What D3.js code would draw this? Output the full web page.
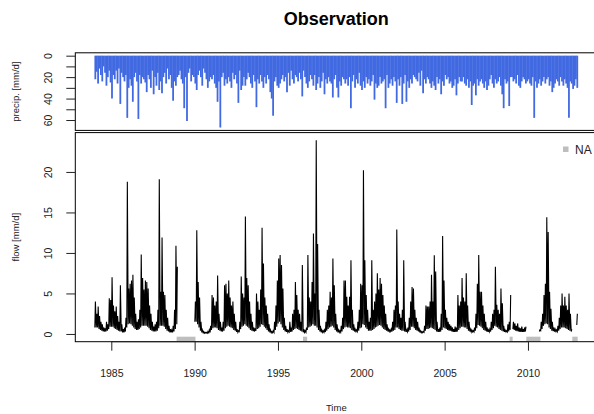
<!DOCTYPE html>
<html><head><meta charset="utf-8">
<script src="https://cdn.jsdelivr.net/npm/d3@7/dist/d3.min.js"></script>
<style>
html,body{margin:0;padding:0;background:#fff;}
svg{display:block;font-family:"Liberation Sans",Arial,Helvetica,sans-serif;}
</style></head>
<body>
<svg id="chart" width="594" height="414"></svg>
<script>
// ---- data (monthly, Jan 1984 .. Dec 2012) ----
const startYear = 1984;
const endYear = 2013;
const precip = [
 22,15,26,12,18,24,10,16,28,20,14,25,
 40,18,22,14,26,12,45,16,20,24,18,58,
 30,22,28,43,20,16,24,59,18,26,20,22,
 25,34,18,22,30,14,36,20,28,16,32,24,
 35,20,16,26,12,22,18,30,42,24,28,20,
 18,14,22,26,49,20,61,16,12,24,18,20,
 26,32,18,14,20,28,12,16,22,30,24,20,
 22,18,26,30,43,24,67,20,16,28,22,26,
 20,24,30,16,22,18,26,44,14,32,28,20,
 28,22,16,20,26,30,18,24,48,22,26,18,
 24,30,20,26,18,22,34,40,56,24,20,28,
 30,26,22,18,24,20,34,16,28,14,22,26,
 18,20,24,16,22,38,14,20,26,30,24,18,
 22,28,18,32,26,20,30,24,16,36,22,26,
 20,24,26,39,22,18,30,39,24,28,20,22,
 26,22,28,20,49,24,18,30,22,26,16,28,
 32,24,30,20,26,22,28,24,18,41,26,30,
 28,20,26,24,22,49,18,30,26,22,28,20,
 24,44,22,28,20,45,26,18,43,24,30,22,
 26,18,20,22,24,16,28,14,35,22,26,20,
 22,26,30,24,28,32,20,26,22,36,24,28,
 18,22,20,26,24,30,28,22,37,26,20,24,
 24,20,26,28,22,30,24,46,28,26,37,22,
 28,24,22,26,30,24,32,28,22,18,26,30,
 22,26,24,20,28,36,49,22,26,24,47,20,
 20,24,22,26,18,28,30,24,20,22,26,24,
 22,26,28,20,58,24,30,26,22,28,24,20,
 26,22,20,28,24,34,30,26,22,24,28,20,
 24,28,22,26,30,58,24,26,31,28,22,30
];
const N = null;
const flowHi = [
 4.0,2.5,3.4,2.2,1.5,1.2,0.8,0.7,1.5,1.2,4.4,4.2,
 7.0,3.5,2.8,3.4,2.2,1.5,6.0,1.2,0.6,0.8,2.0,18.8,
 5.6,6.2,6.6,7.3,4.5,2.5,1.5,1.8,3.0,9.8,6.9,5.5,
 6.6,6.4,5.6,3.5,2.5,1.5,0.9,1.2,1.5,3.0,19.1,5.2,
 11.9,5.2,4.8,3.0,2.0,1.0,0.6,0.5,1.0,3.0,10.9,8.3,
 N,N,N,N,N,N,N,N,N,N,N,N,
 4.0,12.8,6.4,4.5,1.5,0.5,0.3,0.2,0.2,0.3,0.5,1.0,
 4.8,4.5,3.5,4.0,7.2,2.5,1.5,0.8,1.5,6.0,6.2,5.0,
 6.6,4.5,3.5,4.0,2.5,1.5,0.6,0.4,1.5,7.1,5.0,4.5,
 14.5,6.9,6.0,4.0,2.5,1.5,0.8,0.7,5.0,4.0,3.0,5.5,
 13.1,8.7,4.5,3.5,2.5,1.2,0.5,0.3,0.4,1.5,3.5,6.6,
 9.3,9.75,8.5,5.6,2.0,1.0,0.6,0.4,1.5,0.8,2.5,3.0,
 6.4,4.8,3.0,2.5,1.5,8.5,0.6,0.4,0.8,9.75,4.5,4.0,
 6.4,12.4,5.0,23.9,11.1,3.0,1.0,0.5,0.4,0.5,1.5,3.0,
 3.5,5.2,4.5,9.3,6.0,2.5,1.2,0.5,0.4,1.0,2.0,6.6,
 6.6,4.6,3.5,4.6,9.1,3.0,1.2,0.6,0.5,1.5,3.0,6.2,
 6.0,20.2,9.1,4.8,3.0,1.5,2.0,9.1,3.0,4.0,5.0,7.5,
 5.5,6.9,6.2,4.8,3.5,2.5,1.2,0.6,0.5,0.6,1.5,3.0,
 3.5,12.9,4.0,2.5,2.0,3.0,9.1,1.5,0.5,0.8,2.0,4.0,
 5.8,5.6,3.0,2.0,1.5,0.8,0.4,0.3,0.3,1.0,3.5,3.4,
 3.4,4.0,7.3,4.0,9.7,7.7,1.5,0.6,0.8,2.5,12.1,6.6,
 3.0,2.0,1.5,1.2,1.0,0.8,0.6,0.9,0.8,4.8,3.5,4.0,
 6.9,4.5,4.0,7.5,3.5,1.5,0.6,0.5,0.4,0.8,2.5,6.2,
 9.75,5.2,5.2,3.5,2.5,1.5,0.8,0.5,0.6,1.5,2.5,3.0,
 8.3,3.6,3.0,2.5,5.6,3.8,1.0,0.5,0.4,1.2,1.5,4.8,
 N,1.5,1.3,1.0,1.3,0.8,0.7,0.9,0.6,0.8,0.9,N,
 N,N,N,N,N,N,N,N,0.5,1.5,2.5,4.8,
 6.2,14.4,12.6,5.2,3.1,1.5,0.8,0.6,0.5,1.0,2.0,3.5,
 5.0,3.5,4.6,3.5,3.0,5.0,2.5,0.6,N,N,N,2.5
];
const flowLo = [
 0.8,0.8,0.8,0.6,0.5,0.4,0.3,0.3,0.3,0.4,0.6,0.9,
 0.9,0.9,0.7,0.6,0.5,0.4,0.3,0.3,0.2,0.2,0.3,0.8,
 1.2,1.3,1.2,1.0,0.8,0.6,0.5,0.5,0.6,0.8,1.0,1.0,
 1.0,1.0,0.9,0.7,0.5,0.4,0.3,0.3,0.3,0.4,0.7,1.0,
 1.0,1.0,0.9,0.6,0.4,0.3,0.2,0.2,0.2,0.3,0.6,1.2,
 N,N,N,N,N,N,N,N,N,N,N,N,
 1.5,1.5,1.2,0.8,0.4,0.2,0.15,0.1,0.1,0.1,0.15,0.2,
 0.5,0.7,0.8,0.8,0.7,0.5,0.4,0.3,0.3,0.4,0.7,0.9,
 1.0,0.9,0.8,0.7,0.5,0.4,0.25,0.2,0.3,0.6,0.9,1.0,
 1.2,1.0,0.9,0.7,0.5,0.4,0.35,0.3,0.4,0.6,0.7,0.9,
 1.2,1.1,0.9,0.7,0.5,0.3,0.2,0.15,0.15,0.2,0.5,0.9,
 1.3,1.5,1.2,0.8,0.5,0.3,0.25,0.2,0.25,0.25,0.3,0.5,
 0.6,0.7,0.6,0.5,0.4,0.3,0.2,0.2,0.2,0.5,0.8,0.9,
 1.0,1.2,1.0,1.0,0.8,0.5,0.3,0.2,0.2,0.2,0.25,0.4,
 0.6,0.8,0.9,1.0,0.8,0.5,0.3,0.2,0.2,0.2,0.3,0.6,
 0.8,0.9,0.8,0.8,0.7,0.5,0.4,0.3,0.3,0.3,0.4,0.7,
 0.8,1.2,1.1,0.8,0.6,0.4,0.4,0.4,0.5,0.6,0.8,0.9,
 1.0,1.1,1.0,0.8,0.6,0.5,0.4,0.3,0.3,0.3,0.3,0.4,
 0.5,0.8,0.8,0.6,0.5,0.4,0.4,0.3,0.25,0.25,0.3,0.5,
 0.9,0.9,0.7,0.5,0.4,0.3,0.2,0.15,0.15,0.2,0.4,0.6,
 0.6,0.7,0.8,0.7,0.6,0.5,0.3,0.25,0.25,0.3,0.5,0.8,
 0.7,0.6,0.5,0.4,0.4,0.3,0.25,0.25,0.25,0.3,0.5,0.7,
 0.9,0.9,0.8,0.8,0.6,0.4,0.3,0.25,0.25,0.25,0.4,0.7,
 1.1,1.0,0.9,0.7,0.5,0.4,0.3,0.25,0.25,0.3,0.5,0.7,
 1.0,0.9,0.8,0.6,0.5,0.4,0.3,0.25,0.25,0.25,0.3,0.5,
 N,0.6,0.5,0.4,0.35,0.3,0.25,0.25,0.25,0.25,0.3,N,
 N,N,N,N,N,N,N,N,0.3,0.4,0.6,1.0,
 1.2,1.3,1.2,0.8,0.6,0.4,0.35,0.3,0.3,0.3,0.4,0.6,
 0.8,0.8,0.8,0.7,0.6,0.5,0.4,0.3,N,N,N,1.1
];
// missing-value periods (decimal years)
const naFrom = [1988.92, 1996.50, 2008.90, 2009.90, 2012.66];
const naTo   = [1990.05, 1996.75, 2009.08, 2010.75, 2012.98];
const xTicks = [1985, 1990, 1995, 2000, 2005, 2010];
const flowTicks = [0, 5, 10, 15, 20];
const precipTicks = [0, 10, 20, 30, 40, 50, 60];
const precipLabels = [0, 20, 40, 60];
const titleText = "Observation";

// ---- layout ----
const svg = d3.select("#chart");
const L = 75.3, R = 597.3;
const topP = {t: 52.8, b: 130.4};
const botP = {t: 132.6, b: 341.7};
const blue = "#4169E1", naGray = "#bebebe";

const monthT = (i, off) => startYear + Math.floor(i / 12) + ((i % 12) + off) / 12;
const span = endYear - startYear;
const x = d3.scaleLinear()
  .domain([startYear - 0.04 * span, endYear + 0.04 * span])
  .range([L, R]);
const pMax = d3.max(precip);
const yP = d3.scaleLinear().domain([-0.04 * pMax, pMax * 1.04]).range([topP.t, topP.b]);
const fMax = d3.max(flowHi);
const yF = d3.scaleLinear().domain([-0.04 * fMax, fMax * 1.04]).range([botP.b, botP.t]);

// precipitation bars
svg.append("g").selectAll("line").data(precip).join("line")
  .attr("x1", (d, i) => x(monthT(i, 0.5))).attr("x2", (d, i) => x(monthT(i, 0.5)))
  .attr("y1", yP(0)).attr("y2", d => yP(d))
  .attr("stroke", blue).attr("stroke-width", 1.8);

// flow line
const pts = [];
flowHi.forEach((h, i) => {
  pts.push({t: monthT(i, 0.15), v: flowLo[i]});
  pts.push({t: monthT(i, 0.55), v: h});
});
svg.append("path").datum(pts)
  .attr("fill", "none").attr("stroke", "#000").attr("stroke-width", 1.1)
  .attr("stroke-linejoin", "miter")
  .attr("d", d3.line().defined(d => d.v !== null).x(d => x(d.t)).y(d => yF(d.v)));

// NA markers
svg.append("g").selectAll("rect").data(naFrom).join("rect")
  .attr("x", d => x(d)).attr("width", (d, i) => Math.max(2, x(naTo[i]) - x(d)))
  .attr("y", botP.b - 5).attr("height", 5).attr("fill", naGray);

// boxes
[topP, botP].forEach(p => svg.append("rect")
  .attr("x", L).attr("y", p.t).attr("width", R - L).attr("height", p.b - p.t)
  .attr("fill", "none").attr("stroke", "#000").attr("stroke-width", 1));

const tickCol = "#222";
// precip axis
const gP = svg.append("g").attr("transform", `translate(${L},0)`)
  .call(d3.axisLeft(yP).tickValues(precipTicks).tickSize(9)
        .tickFormat(d => precipLabels.includes(d) ? d : ""));
// flow axis
const gF = svg.append("g").attr("transform", `translate(${L},0)`)
  .call(d3.axisLeft(yF).tickValues(flowTicks).tickSize(9).tickFormat(d3.format("d")));
[gP, gF].forEach(g => {
  g.select(".domain").remove();
  g.selectAll("line").attr("stroke", tickCol);
  g.selectAll("text").attr("x", null).attr("dy", null)
    .attr("transform", "translate(-23.5,0) rotate(-90)")
    .attr("text-anchor", "middle").attr("fill", tickCol)
    .style("font-size", "10.5px").style("font-family", "Liberation Sans, Arial, sans-serif");
});
// x axis
const gX = svg.append("g").attr("transform", `translate(0,${botP.b})`)
  .call(d3.axisBottom(x).tickValues(xTicks).tickSize(9).tickFormat(d3.format("d")));
gX.select(".domain").attr("d", `M${x(xTicks[0])},0H${x(xTicks[xTicks.length-1])}`).attr("stroke", tickCol);
gX.selectAll("line").attr("stroke", tickCol);
gX.selectAll("text").attr("y", 35).attr("dy", null).attr("fill", tickCol)
  .style("font-size", "10.5px").style("font-family", "Liberation Sans, Arial, sans-serif");

// axis titles
svg.append("text").attr("transform", `translate(19,${(topP.t + topP.b) / 2}) rotate(-90)`)
  .attr("text-anchor", "middle").style("font-size", "9.5px").attr("fill", tickCol)
  .text("precip. [mm/d]");
svg.append("text").attr("transform", `translate(19,${(botP.t + botP.b) / 2}) rotate(-90)`)
  .attr("text-anchor", "middle").style("font-size", "9.5px").attr("fill", tickCol)
  .text("flow [mm/d]");
svg.append("text").attr("x", (L + R) / 2).attr("y", 411)
  .attr("text-anchor", "middle").style("font-size", "9.5px").attr("fill", tickCol)
  .text("Time");
svg.append("text").attr("x", (L + R) / 2).attr("y", 25)
  .attr("text-anchor", "middle").style("font-size", "18px").style("font-weight", "bold")
  .text(titleText);

// legend
svg.append("rect").attr("x", 563).attr("y", 146.5).attr("width", 5.5).attr("height", 5.5).attr("fill", naGray);
svg.append("text").attr("x", 575).attr("y", 153.5).style("font-size", "12px").attr("fill", "#222").text("NA");
</script>
</body></html>
